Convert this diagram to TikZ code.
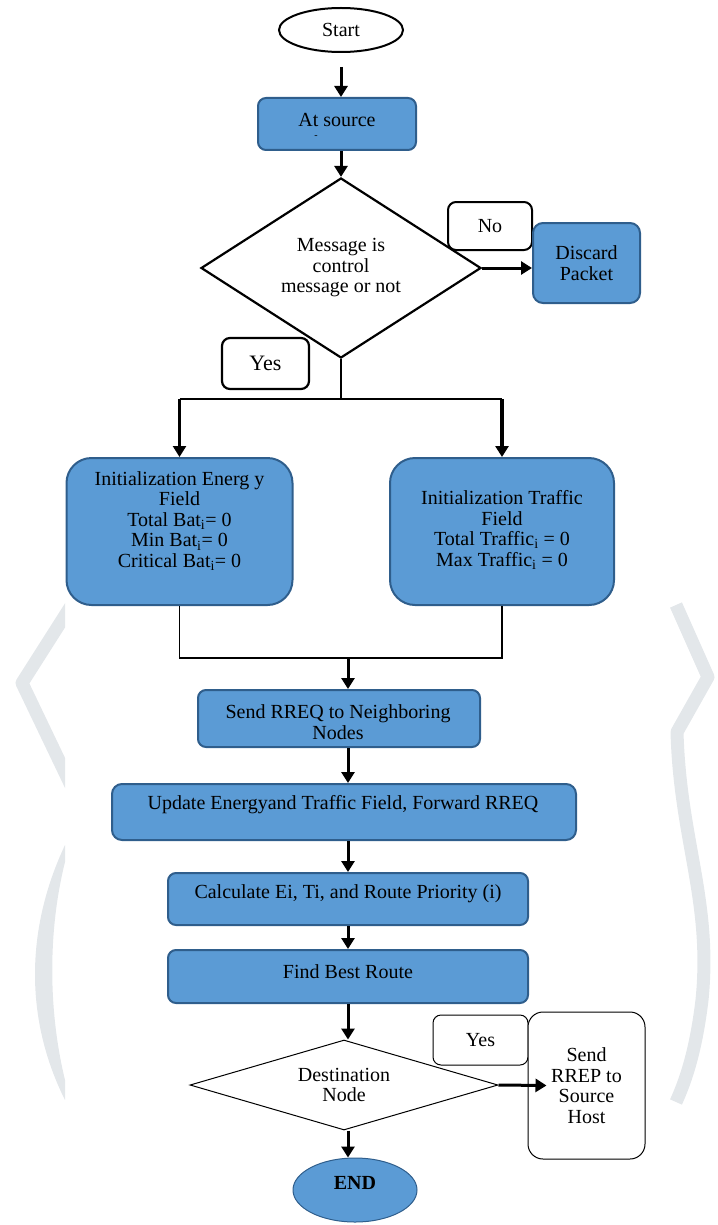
\documentclass[tikz,border=0pt]{standalone}
\usepackage{fontspec}
\setmainfont{Liberation Serif}
\usetikzlibrary{shapes.geometric,arrows.meta,calc}
\definecolor{boxfill}{HTML}{5B9BD5}
\definecolor{boxline}{HTML}{2F5E8C}
\definecolor{wm}{HTML}{E3E7EA}
\begin{document}
\begin{tikzpicture}[x=1pt,y=-1pt,
  every node/.style={font=\fontsize{20}{20.5}\selectfont, inner sep=0pt},
  bluebox/.style={draw=boxline, fill=boxfill, line width=2pt, rounded corners=#1},
  bluebox/.default=8pt,
  whitebox/.style={draw=black, fill=white, line width=#1, rounded corners=8pt},
  whitebox/.default=2pt,
  txt/.style={align=center},
  arr/.style={-{Triangle[width=13pt,length=11pt]}, line width=3pt},
  thinline/.style={line width=1.3pt}
]
\useasboundingbox (0,0) rectangle (717,1225);

% watermark
\begin{scope}
  \clip (0,0) rectangle (65,1225);
  \draw[wm, line width=13pt, line join=round] (78,595) -- (22,683) -- (78,800);
  \fill[wm] (65,845) .. controls (25,930) and (25,1020) .. (65,1100) -- (65,1080) .. controls (48,1010) and (48,930) .. (65,862) -- cycle;
\end{scope}
\draw[wm, line width=13pt, line join=round] (676,605) -- (708,677) -- (677,732) .. controls (680,840) and (712,900) .. (702,1000) .. controls (696,1050) and (686,1080) .. (676,1102);

% nodes
\node[ellipse, draw, line width=2pt, minimum width=124pt, minimum height=44pt] (start) at (341,30) {Start};

\node[bluebox=8pt, minimum width=158pt, minimum height=52pt] (src) at (337,124) {};
\node (srct) at (337,120) {At source};
\node[font=\fontsize{10}{10}\selectfont] (srcd) at (316,137) {-};

\node[diamond, draw, line width=2.2pt, minimum width=280pt, minimum height=180pt, aspect=1.55, txt] (dec1) at (341,268) {Message is\\control\\message or not};

\node[whitebox=2pt, minimum width=84pt, minimum height=48pt] (no) at (490,226) {No};
\node[bluebox=10pt, minimum width=107pt, minimum height=80pt, txt] (disc) at (586.5,263) {Discard\\Packet};

\node[whitebox=2.2pt, minimum width=87pt, minimum height=51pt, font=\fontsize{22}{22}\selectfont] (yes1) at (265.5,363.5) {Yes};

\coordinate (split) at (341,399);
\coordinate (splitL) at (179.5,399);
\coordinate (splitR) at (502,399);

\node[bluebox=25pt, minimum width=226pt, minimum height=147pt] (energy) at (179.5,531.5) {};
\node[txt] (energyt) at (179.5,521) {Initialization Energ y\\Field\\Total Bat\textsubscript{i}= 0\\Min Bat\textsubscript{i}= 0\\Critical Bat\textsubscript{i}= 0};

\node[bluebox=25pt, minimum width=224pt, minimum height=147pt] (traffic) at (502,531.5) {};
\node[txt] (traffict) at (502,530) {Initialization Traffic\\Field\\Total Traffic\textsubscript{i} = 0\\Max Traffic\textsubscript{i} = 0};

\coordinate (join) at (348,658);

\node[bluebox=8pt, minimum width=282pt, minimum height=57pt] (rreq) at (339,718.5) {};
\begin{scope}
  \clip (198,690) rectangle (480,740);
  \node[txt] (rreqt) at (338,722) {Send RREQ to Neighboring\\Nodes};
\end{scope}

\node[bluebox=10pt, minimum width=464pt, minimum height=56pt] (upd) at (344,812) {};
\node (updt) at (343,805) {Update Energyand Traffic Field, Forward RREQ};

\node[bluebox=8pt, minimum width=360pt, minimum height=52pt] (calc) at (348,899) {};
\node (calct) at (348,894) {Calculate Ei, Ti, and Route Priority (i)};

\node[bluebox=8pt, minimum width=360pt, minimum height=53pt] (find) at (348,976.5) {};
\node (findt) at (348,972) {Find Best Route};

\node[diamond, draw, line width=1pt, minimum width=308pt, minimum height=90pt, aspect=3.4, txt] (dec2) at (344,1085) {Destination\\Node};

\node[whitebox=1pt, minimum width=95pt, minimum height=50pt] (yes2) at (480.5,1040) {Yes};
\node[draw, line width=1pt, rounded corners=15pt, fill=white, minimum width=117pt, minimum height=147pt, txt] (rrep) at (586.5,1085.5) {Send\\RREP to\\Source\\Host};

\node[ellipse, draw=boxline, fill=boxfill, line width=1pt, minimum width=124pt, minimum height=64pt] (end) at (355,1190) {};
\node[font=\fontsize{20}{20}\selectfont\bfseries] (endt) at (355,1183) {END};

% connectors
\draw[arr, shorten <=14pt] (start.south) -- (start.south |- src.north);
\draw[arr] (src.south -| dec1.north) -- (dec1.north);
\draw[arr] (dec1.east) -- (dec1.east -| disc.west);
\draw[thinline] (dec1.south) -- (split);
\draw[thinline] (splitL) -- (splitR);
\draw[arr, line width=2.4pt] (splitL) -- (energy.north);
\draw[arr, line width=3.4pt] (splitR) -- (traffic.north);
\draw[thinline] (energy.south) -- (energy.south |- join) -- (traffic.south |- join) -- (traffic.south);
\draw[arr] (join) -- (join |- rreq.north);
\draw[arr] (rreq.south -| join) -- (join |- upd.north);
\draw[arr] (upd.south -| join) -- (join |- calc.north);
\draw[arr] (calc.south) -- (find.north);
\draw[arr] (find.south) -- (find.south |- dec2.north);
\draw[arr] (dec2.east) -- ($(rrep.west)+(19,0)$);
\draw[arr] (find.south |- dec2.south) -- (find.south |- end.north);
\end{tikzpicture}
\end{document}
